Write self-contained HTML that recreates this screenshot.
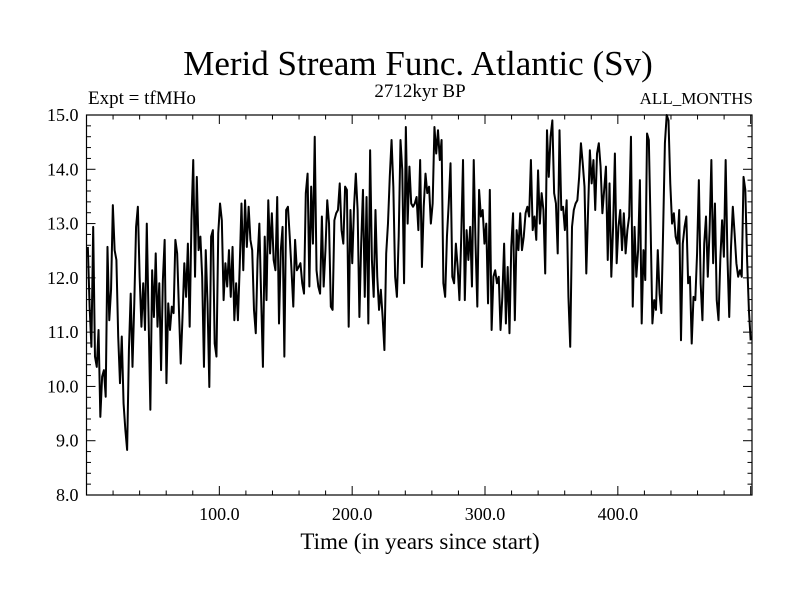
<!DOCTYPE html>
<html><head><meta charset="utf-8">
<style>
html,body{margin:0;padding:0;background:#fff;}
svg{display:block;font-family:"Liberation Serif",serif;}
</style></head>
<body>
<svg id="chart" width="800" height="600" viewBox="0 0 800 600" xmlns="http://www.w3.org/2000/svg">
<rect x="0" y="0" width="800" height="600" fill="#fff"/>
<text x="418" y="75" font-size="35" text-anchor="middle">Merid Stream Func. Atlantic (Sv)</text>
<text x="88" y="104" font-size="19">Expt = tfMHo</text>
<text x="420" y="97" font-size="19" text-anchor="middle">2712kyr BP</text>
<text x="753" y="104" font-size="17" text-anchor="end">ALL_MONTHS</text>
<text x="420" y="549" font-size="23" text-anchor="middle">Time (in years since start)</text>
<g id="axes"></g>
<g id="series"></g>
</svg>
<script>
const yTickLabels = ["8.0","9.0","10.0","11.0","12.0","13.0","14.0","15.0"];
const yTickValues = [8,9,10,11,12,13,14,15];
const xTickLabels = ["100.0","200.0","300.0","400.0"];
const xTickValues = [100,200,300,400];
const xRange = [0,501];
const yRange = [8,15];
const yearStart = 1;
const yearEnd = 500;
const values1 = [12.57,11.47,10.73,12.94,10.55,10.36,11.04,9.44,10.18,10.3,9.81,12.57,11.22,11.78,13.34,12.51,12.33,10.92,10.06,10.92,9.69,9.2,8.83,10.67,11.71,10.36,11.53,12.94,13.31,12.02,11.1,11.9,11.04,13.0,11.28,9.57,12.14,11.28,12.45,11.1,11.9,10.3,11.96,12.7,10.06,11.53,11.04,11.47,11.35,12.7,12.45,11.41,10.42,11.28,12.27,11.65,12.63,11.1,13.06,14.17,12.02,13.86,12.51,12.76,12.02,10.36,12.51,11.53,9.99,12.76,12.88,10.79,10.55,12.82,13.37,13.06,11.59,12.27,11.84,12.51,11.65,12.57,11.22,11.9];
const values2 = [11.22,12.2,13.37,12.14,13.43,12.57,13.31,12.7,12.51,11.41,10.98,12.33,13.0,11.65,10.36,12.76,11.59,13.43,12.45,13.19,12.33,12.14,13.49,11.16,12.51,12.94,10.55,13.25,13.31,12.76,12.14,11.47,12.7,12.14,12.2,12.27,11.9,11.71,13.56,13.92,11.84,13.68,12.63,14.6,12.14,11.84,11.71,13.13,11.84,12.51,13.43,13.0,11.47,11.41,13.06,13.19,13.25,13.74,12.88,12.63,13.68,13.62,11.1,13.25,12.27,13.31,13.92,13.25,11.28,12.63,13.62,11.65,13.49,11.16,14.35,12.33,11.65,13.25,12.02,11.41,11.78,11.28,10.67,12.45,13.0,13.86,14.54,13.68,12.02,11.65,12.76,14.54,13.98,11.9];
const values3 = [14.78,13.0,14.05,13.37,13.31,13.37,13.49,12.88,14.17,12.2,13.31,13.92,13.56,13.68,13.0,13.37,14.78,14.29,14.72,14.17,14.54,11.9,11.65,12.76,13.37,14.11,12.02,11.9,12.63,12.2,11.59,12.76,14.17,11.59,12.88,12.33,12.94,11.84,14.17,12.63,11.47,13.62,13.13,13.25,12.63,13.0,11.53,13.62,11.04,12.02,12.14,11.9,12.02,11.04,11.65,12.63,11.16,12.2,10.98,12.57,13.19,11.22,12.88,12.51,13.19,12.51,12.76,13.19,13.31,13.13,14.17,12.88,13.13,12.7,13.98,13.0,13.56,13.25,12.08,14.72,13.86,14.6,14.9,13.56,13.37,12.45,14.72,13.25,13.31,12.88,13.43,11.65,10.73,12.94,13.25,13.37,13.43,13.86,14.48,14.11,13.68];
const values4 = [12.08,13.25,14.35,13.74,14.17,13.25,14.29,14.48,14.05,13.19,13.62,14.05,12.33,13.74,12.02,12.94,14.29,12.27,12.94,13.25,12.51,13.19,12.45,12.88,13.13,14.6,11.47,12.94,12.02,12.51,13.8,11.16,12.51,11.96,14.66,14.54,12.94,11.16,11.59,11.41,12.51,11.71,11.35,12.88,14.48,15.0,14.9,13.74,13.0,13.19,12.76,12.63,13.25,10.85,12.63,12.94,13.13,11.9,12.02,10.79,11.65,11.59,12.45,13.8,11.9,11.22,12.63,13.13,12.02,12.88,14.17,12.27,13.37,11.59,11.22,12.33,13.06,12.39,14.17,12.39,11.28,12.57,13.31,12.82,12.27,12.02,12.14,12.02,13.86,13.62,12.33,11.41,10.85];

const PL=86.5, PR=752, PT=115, PB=495;
const NS="http://www.w3.org/2000/svg";
function xs(v){return PL+(v-xRange[0])/(xRange[1]-xRange[0])*(PR-PL);}
function ys(v){return PB-(v-yRange[0])/(yRange[1]-yRange[0])*(PB-PT);}
function mk(tag,attrs,parent){const e=document.createElementNS(NS,tag);for(const k in attrs)e.setAttribute(k,attrs[k]);parent.appendChild(e);return e;}
const axes=document.getElementById('axes');
const frame=mk('rect',{x:PL,y:PT,width:PR-PL,height:PB-PT,fill:'none',stroke:'#000','stroke-width':1.2},axes);


for(let t=20;t<xRange[1];t+=20){
  const major=(t%100===0);const L=major?9:4.5;const x=xs(t);
  const a=mk('line',{x1:x,x2:x,y1:PB,y2:PB-L,stroke:'#000','stroke-width':1},axes);
  
  
  const b=mk('line',{x1:x,x2:x,y1:PT,y2:PT+L,stroke:'#000','stroke-width':1},axes);
  
  
}
xTickValues.forEach((v,i)=>{
  const t=mk('text',{x:xs(v),y:PB+25,'font-size':18,'text-anchor':'middle'},axes);
  t.textContent=xTickLabels[i];
  
  
});
for(let k=0;k<=35;k++){
  const v=yRange[0]+k*0.2;const major=(k%5===0);const L=major?9:4.5;const y=ys(v);
  const a=mk('line',{x1:PL,x2:PL+L,y1:y,y2:y,stroke:'#000','stroke-width':1},axes);
  
  
  const b=mk('line',{x1:PR,x2:PR-L,y1:y,y2:y,stroke:'#000','stroke-width':1},axes);
  
  
}
yTickValues.forEach((v,i)=>{
  const t=mk('text',{x:PL-8,y:ys(v)+6,'font-size':18,'text-anchor':'end'},axes);
  t.textContent=yTickLabels[i];
  
  
});
const values=values1.concat(values2,values3,values4);
const n=values.length;
let d='';
values.forEach((v,i)=>{
  const yr=yearStart+i*(yearEnd-yearStart)/(n-1);
  d+=(i?'L':'M')+xs(yr).toFixed(2)+','+ys(v).toFixed(2);
});
const line=mk('path',{d:d,fill:'none',stroke:'#000','stroke-width':2,'stroke-linejoin':'round'},document.getElementById('series'));


</script>
</body></html>
